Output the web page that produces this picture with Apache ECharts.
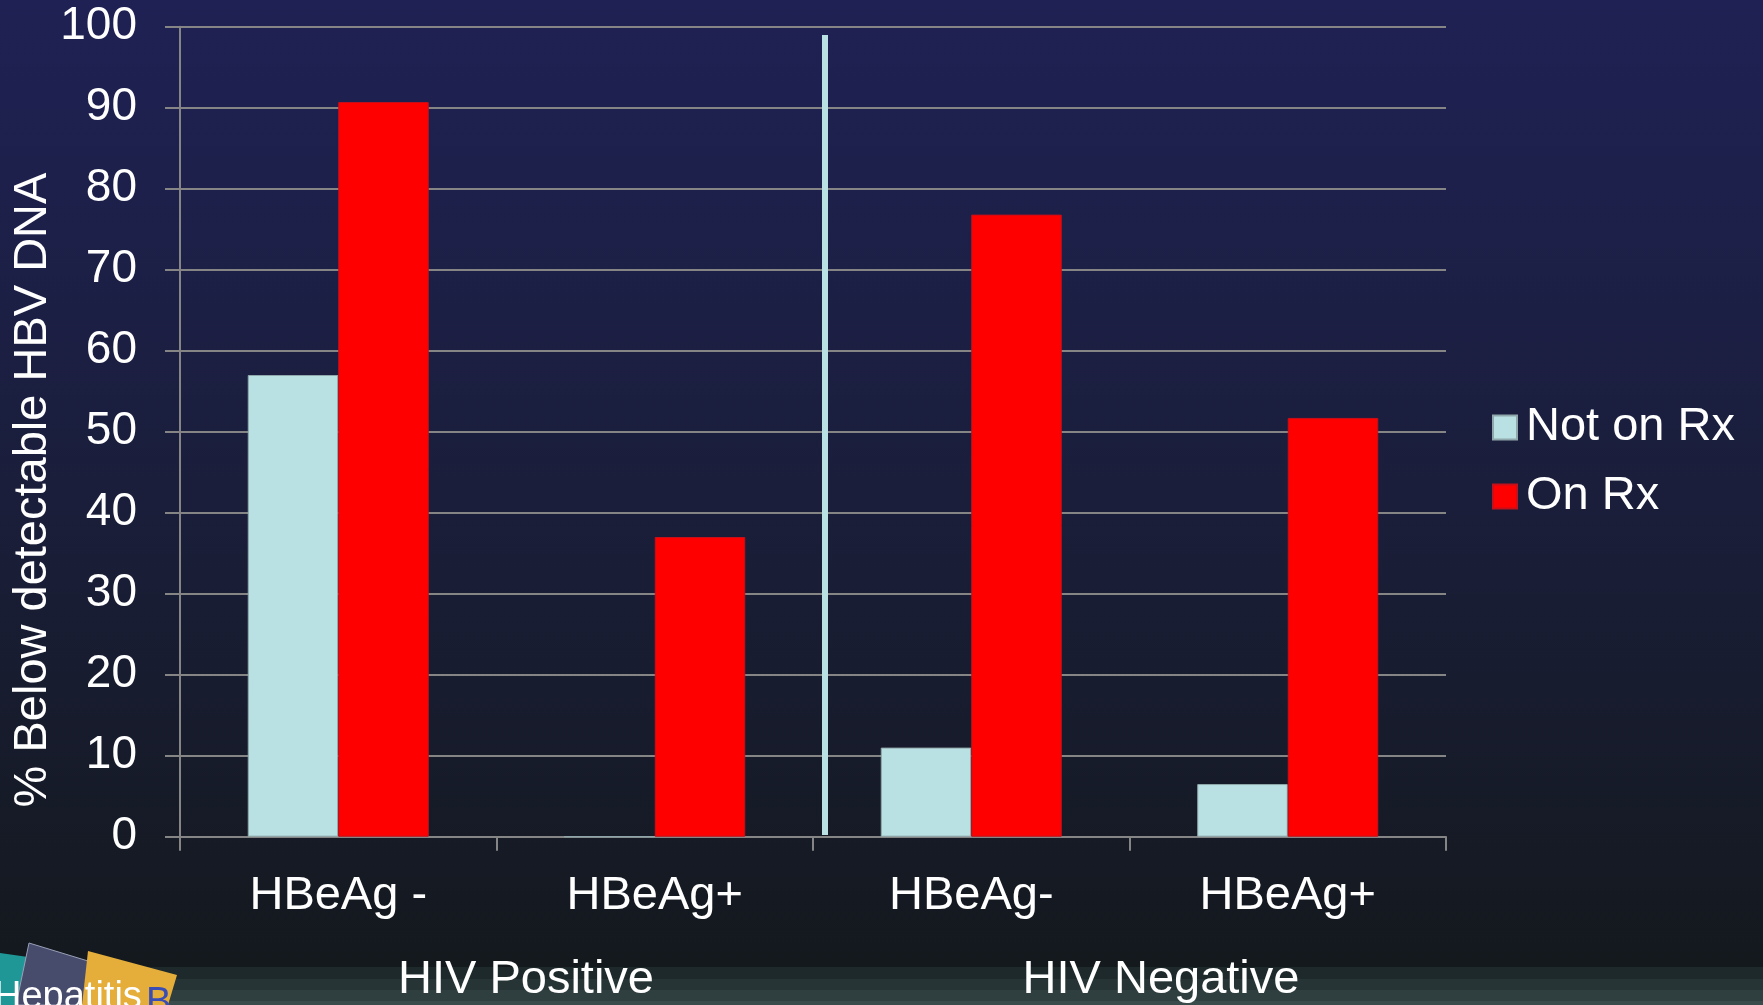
<!DOCTYPE html>
<html>
<head>
<meta charset="utf-8">
<title>% Below detectable HBV DNA</title>
<script src="https://cdn.jsdelivr.net/npm/echarts@6/dist/echarts.min.js"></script>
<style>
  html, body { margin: 0; padding: 0; background: #141a20; }
  #chart { width: 1763px; height: 1005px; }
</style>
</head>
<body>
<div id="chart"></div>
<script>
// Subgroups (HBeAg status) within each HIV group
const categories = ['HBeAg -', 'HBeAg+', 'HBeAg-', 'HBeAg+'];
const groupLabels = ['HIV Positive', 'HIV Negative'];
const seriesNames = ['Not on Rx', 'On Rx'];
// % of patients below detectable HBV DNA
const notOnRx = [57, 0, 11, 6.5];
const onRx = [90.7, 37, 76.8, 51.7];
const yTicks = { min: 0, max: 100, interval: 10 };

const FONT = '"Liberation Sans", Arial, Helvetica, sans-serif';
const W = 1763, H = 1005;
const GRID = { left: 180, top: 26.7, right: 317, bottom: 168.3 };

const chart = echarts.init(document.getElementById('chart'), null, { renderer: 'canvas' });

// Slide background: navy-to-charcoal gradient with banded footer and logo
const footerBands = [
  { y: 967, h: 12, c: '#1e292c' },
  { y: 979, h: 11, c: '#263435' },
  { y: 990, h: 11, c: '#2f3e3f' },
  { y: 1001, h: 4, c: '#3a4b4c' }
];

const graphics = [];
footerBands.forEach(b => graphics.push({
  type: 'rect', z: -10, silent: true,
  shape: { x: 0, y: b.y, width: W, height: b.h },
  style: { fill: b.c }
}));

// Logo blocks in the lower-left corner
graphics.push(
  { type: 'polygon', z: -5, silent: true,
    shape: { points: [[0, 953], [28, 957], [20, 1005], [0, 1005]] },
    style: { fill: '#1f9796' } },
  { type: 'polygon', z: -5, silent: true,
    shape: { points: [[29, 943], [88, 961], [86, 1005], [16, 1005]] },
    style: { fill: '#474b6c', stroke: '#9aa0b8', lineWidth: 1 } },
  { type: 'polygon', z: -5, silent: true,
    shape: { points: [[88, 951], [177, 975], [168, 1005], [82, 1005]] },
    style: { fill: '#e5ae3b' } },
  { type: 'text', z: -4, silent: true,
    style: { text: 'Hepatitis', x: -6, y: 998, fill: '#ffffff',
             font: '38px ' + FONT, verticalAlign: 'middle', align: 'left' } },
  { type: 'text', z: -4, silent: true,
    style: { text: 'B', x: 146, y: 1004, fill: '#3a4db5',
             font: '38px ' + FONT, verticalAlign: 'middle', align: 'left' } }
);

// Divider between the HIV-positive and HIV-negative groups
graphics.push({
  type: 'rect', silent: true, z: 5,
  shape: { x: 822, y: 35, width: 6, height: 800 },
  style: { fill: '#b9e0e3' }
});

// Vertical axis title
graphics.push({
  type: 'text', silent: true,
  x: 33, y: 490, rotation: Math.PI / 2,
  style: { text: '% Below detectable HBV DNA', fill: '#ffffff',
           font: '47px ' + FONT, align: 'center', verticalAlign: 'middle' }
});

// Group labels below the category labels
const groupX = [526, 1161];
groupLabels.forEach((t, i) => graphics.push({
  type: 'text', silent: true,
  style: { text: t, x: groupX[i], y: 980, fill: '#ffffff',
           font: '47px ' + FONT, align: 'center', verticalAlign: 'middle' }
}));

const axisGray = '#858585';

chart.setOption({
  animation: false,
  backgroundColor: {
    type: 'linear', x: 0, y: 0, x2: 0, y2: 1,
    colorStops: [
      { offset: 0, color: '#1f2154' },
      { offset: 0.5, color: '#1a1e3a' },
      { offset: 0.96, color: '#14191e' },
      { offset: 1, color: '#14191e' }
    ]
  },
  textStyle: { fontFamily: FONT },
  grid: GRID,
  legend: {
    data: seriesNames,
    orient: 'vertical',
    left: 1487,
    top: 399,
    itemWidth: 24,
    itemHeight: 24,
    itemGap: 22,
    icon: 'rect',
    textStyle: { color: '#ffffff', fontSize: 47, fontFamily: FONT, lineHeight: 47, padding: [0, 0, 0, 4] }
  },
  xAxis: {
    type: 'category',
    data: categories,
    axisLine: { lineStyle: { color: axisGray, width: 2 } },
    axisTick: { show: true, length: 14, lineStyle: { color: axisGray, width: 2 } },
    axisLabel: { color: '#ffffff', fontSize: 47, fontFamily: FONT, margin: 36 },
    splitLine: { show: false }
  },
  yAxis: {
    type: 'value',
    min: yTicks.min, max: yTicks.max, interval: yTicks.interval,
    axisLine: { show: true, lineStyle: { color: axisGray, width: 2 } },
    axisTick: { show: true, length: 15, lineStyle: { color: axisGray, width: 2 } },
    axisLabel: { color: '#ffffff', fontSize: 46, fontFamily: FONT, margin: 43 },
    splitLine: { show: true, lineStyle: { color: axisGray, width: 2 } }
  },
  series: [
    {
      name: seriesNames[0], type: 'bar', data: notOnRx,
      barWidth: 90.5, barGap: '0%',
      itemStyle: { color: '#b9e0e3', borderColor: '#8fa8ab', borderWidth: 1 }
    },
    {
      name: seriesNames[1], type: 'bar', data: onRx,
      barWidth: 90.5, barGap: '0%',
      itemStyle: { color: '#ff0000', borderColor: '#c4101a', borderWidth: 1 }
    }
  ],
  graphic: graphics
});
</script>
</body>
</html>
